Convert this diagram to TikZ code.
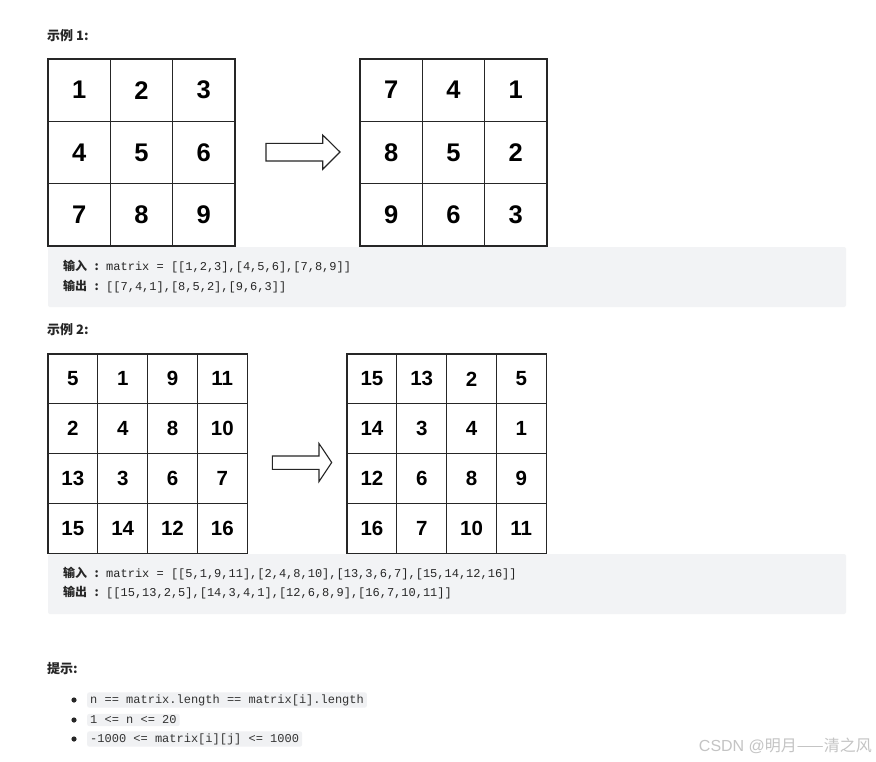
\documentclass[tikz,border=0pt]{standalone}
\usepackage{fontspec}
\setmainfont{Liberation Sans}
\setmonofont{Liberation Mono}
\newfontfamily\cjk{Noto Sans CJK SC}
\definecolor{boxgrey}{HTML}{F2F3F5}
\definecolor{codegrey}{HTML}{F0F1F3}
\definecolor{txt}{HTML}{262626}
\definecolor{wm}{HTML}{C4C4C4}
\newcommand\lbl[1]{{\cjk\bfseries #1\makebox[19pt][c]{:}}}
\begin{document}
\begin{tikzpicture}[x=1pt,y=-1pt,
  cellA/.style={draw=black!85,line width=1.4pt,minimum size=62.3pt,inner sep=0pt,
     font=\fontsize{25.5}{30}\selectfont\bfseries},
  cellB/.style={draw=black!85,line width=1.2pt,minimum size=49.8pt,inner sep=0pt,
     font=\fontsize{20.5}{24}\selectfont\bfseries},
  head/.style={anchor=west,inner sep=0pt,text=txt,font=\cjk\bfseries\fontsize{13}{15}\selectfont},
  line/.style={anchor=west,inner sep=0pt,text=txt,font=\fontsize{12}{14}\selectfont},
  panel/.style={fill=boxgrey,draw=none,rounded corners=2pt},
  code/.style={anchor=west,fill=codegrey,rounded corners=2pt,inner xsep=3pt,inner ysep=2pt,
     text=black!80,font=\ttfamily\fontsize{12}{14}\selectfont},
  blockarrow/.style={draw=black!85,line width=1.1pt,fill=white,line join=miter}]
\useasboundingbox (0,0) rectangle (876,761);
\fill[white] (0,0) rectangle (876,761);

% ---------- Example 1
\node[head] (t1) at (47,36) {示例 1:};
\foreach \v [count=\i from 0] in {1,2,3,4,5,6,7,8,9}{
  \pgfmathtruncatemacro\r{\i/3}\pgfmathtruncatemacro\c{mod(\i,3)}
  \node[cellA] (a-\r-\c) at ({48+31.15+62.3*\c},{59+31.15+62.3*\r}) {\v};}
\foreach \v [count=\i from 0] in {7,4,1,8,5,2,9,6,3}{
  \pgfmathtruncatemacro\r{\i/3}\pgfmathtruncatemacro\c{mod(\i,3)}
  \node[cellA] (b-\r-\c) at ({360+31.15+62.3*\c},{59+31.15+62.3*\r}) {\v};}
\draw[blockarrow] (266,143.3) -- (322.7,143.3) -- (322.7,135) -- (340,152)
   -- (322.7,169.3) -- (322.7,161) -- (266,161) -- cycle;

\path[panel] (48,247) rectangle (846,307);
\node[line] (in1) at (63,267) {\lbl{输入}\texttt{matrix = [[1,2,3],[4,5,6],[7,8,9]]}};
\node[line] (out1) at (63,287) {\lbl{输出}\texttt{[[7,4,1],[8,5,2],[9,6,3]]}};

% ---------- Example 2
\node[head] (t2) at (47,330) {示例 2:};
\foreach \v [count=\i from 0] in {5,1,9,11,2,4,8,10,13,3,6,7,15,14,12,16}{
  \pgfmathtruncatemacro\r{\i/4}\pgfmathtruncatemacro\c{mod(\i,4)}
  \node[cellB] (c-\r-\c) at ({48+24.9+49.8*\c},{354+24.9+49.8*\r}) {\v};}
\foreach \v [count=\i from 0] in {15,13,2,5,14,3,4,1,12,6,8,9,16,7,10,11}{
  \pgfmathtruncatemacro\r{\i/4}\pgfmathtruncatemacro\c{mod(\i,4)}
  \node[cellB] (d-\r-\c) at ({347+24.9+49.8*\c},{354+24.9+49.8*\r}) {\v};}
\draw[blockarrow] (272.3,456) -- (319,456) -- (319,443.5) -- (331.7,462.5)
   -- (319,481.5) -- (319,469.3) -- (272.3,469.3) -- cycle;

\path[panel] (48,554) rectangle (846,614);
\node[line] (in2) at (63,574) {\lbl{输入}\texttt{matrix = [[5,1,9,11],[2,4,8,10],[13,3,6,7],[15,14,12,16]]}};
\node[line] (out2) at (63,593) {\lbl{输出}\texttt{[[15,13,2,5],[14,3,4,1],[12,6,8,9],[16,7,10,11]]}};

% ---------- Hints
\node[head] (t3) at (47,669) {提示:};
\foreach \y/\n/\s in {700/h1/{n == matrix.length == matrix[i].length},
                      720/h2/{1 <= n <= 20},
                      739/h3/{-1000 <= matrix[i][j] <= 1000}}{
  \fill[black!85] (74,\y) circle (2.6);
  \node[code] (\n) at (87,\y) {\s};}

% ---------- watermark
\node[anchor=east,inner sep=0pt,text=wm,font=\fontsize{16}{18}\selectfont] (wm) at (872,746) {CSDN @{\cjk 明月——清之风}};
\end{tikzpicture}
\end{document}
